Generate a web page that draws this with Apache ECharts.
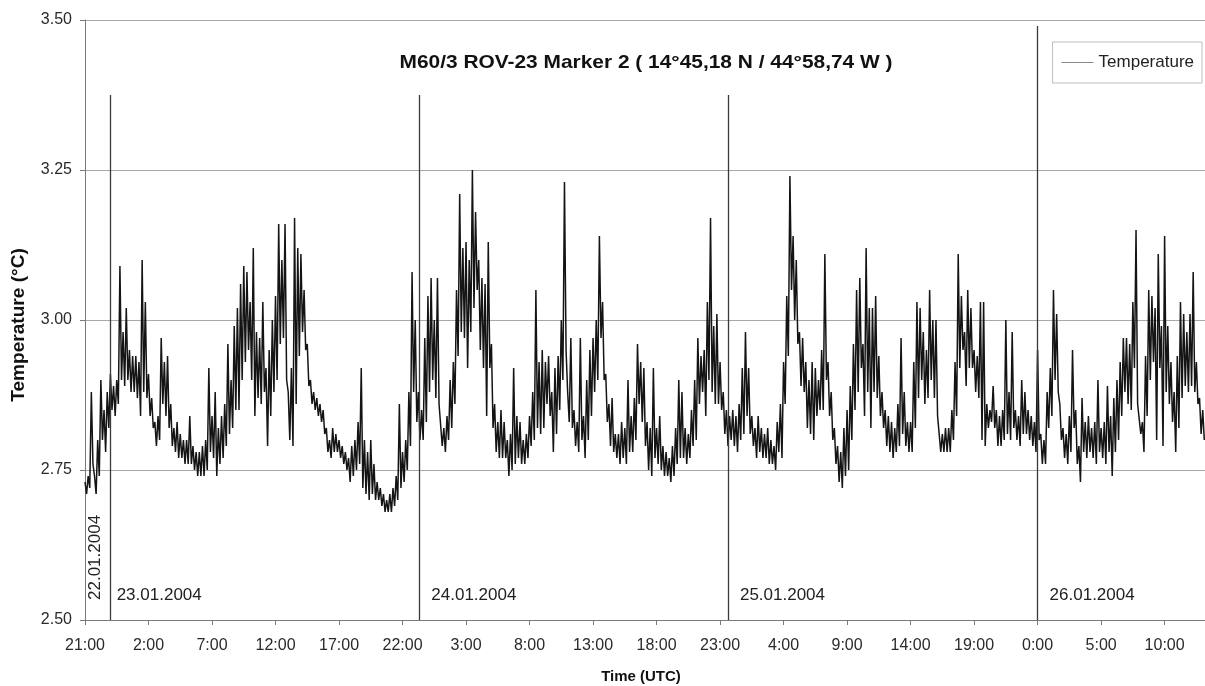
<!DOCTYPE html>
<html>
<head>
<meta charset="utf-8">
<script src="https://cdn.jsdelivr.net/npm/echarts@6/dist/echarts.min.js"></script>
<style>
  html, body { margin: 0; padding: 0; background: #fff; }
  #chart { width: 1205px; height: 686px; }
</style>
</head>
<body>
<div id="chart"></div>
<script>
// Temperature log, M60/3 ROV-23 Marker 2.
// Samples every 0.125 h starting 22.01.2004 21:00 UTC (one row per hour).
const sampleStepHours = 0.125;
const temps = [
  2.73,2.71, 2.74,2.72, 2.88,2.76, 2.74,2.71,
  2.80,2.74, 2.90,2.80, 2.85,2.78, 2.88,2.82,
  2.91,2.85, 2.89,2.84, 2.90,2.86, 3.09,2.90,
  2.98,2.89, 3.02,2.90, 2.95,2.88, 2.94,2.88,
  2.94,2.87, 2.93,2.84, 3.10,2.88, 3.03,2.87,
  2.91,2.84, 2.87,2.82, 2.83,2.79, 2.84,2.80,
  2.97,2.86, 2.93,2.84, 2.94,2.82, 2.86,2.79,
  2.82,2.78, 2.83,2.77, 2.81,2.77, 2.80,2.76,
  2.80,2.76, 2.84,2.76, 2.79,2.75, 2.78,2.74,
  2.78,2.74, 2.79,2.74, 2.80,2.75, 2.92,2.78,
  2.84,2.77, 2.88,2.74, 2.82,2.76, 2.84,2.77,
  2.86,2.79, 2.96,2.81, 2.90,2.82, 2.99,2.85,
  3.02,2.85, 3.06,2.90, 3.09,2.93, 3.08,2.95,
  3.03,2.90, 3.12,2.84, 2.98,2.87, 2.97,2.86,
  3.03,2.88, 2.92,2.79, 2.95,2.84, 3.00,2.88,
  3.04,2.90, 3.16,2.96, 3.10,2.97, 3.16,2.90,
  2.88,2.80, 2.92,2.79, 3.17,2.86, 3.12,2.94,
  3.11,2.98, 3.05,2.95, 2.96,2.89, 2.90,2.86,
  2.88,2.85, 2.87,2.84, 2.86,2.83, 2.85,2.81,
  2.82,2.78, 2.80,2.77, 2.82,2.78, 2.81,2.78,
  2.80,2.77, 2.79,2.76, 2.78,2.75, 2.77,2.73,
  2.79,2.74, 2.80,2.75, 2.83,2.76, 2.92,2.72,
  2.80,2.71, 2.78,2.70, 2.80,2.71, 2.76,2.70,
  2.73,2.70, 2.72,2.69, 2.71,2.68, 2.70,2.68,
  2.71,2.68, 2.72,2.69, 2.74,2.70, 2.86,2.72,
  2.78,2.73, 2.80,2.75, 2.88,2.79, 3.08,2.88,
  3.00,2.83, 2.88,2.80, 2.85,2.80, 2.97,2.83,
  3.04,2.88, 3.07,2.90, 3.00,2.87, 3.07,2.86,
  2.86,2.79, 2.82,2.78, 2.84,2.80, 2.90,2.82,
  2.93,2.86, 3.05,2.94, 3.21,2.98, 3.12,2.97,
  3.13,2.92, 3.10,2.98, 3.25,3.02, 3.18,3.05,
  3.10,2.95, 3.07,2.92, 3.06,2.84, 3.13,2.92,
  2.96,2.82, 2.86,2.78, 2.83,2.77, 2.85,2.77,
  2.83,2.77, 2.80,2.74, 2.81,2.75, 2.92,2.76,
  2.84,2.77, 2.83,2.76, 2.80,2.76, 2.81,2.77,
  2.84,2.79, 2.88,2.80, 3.05,2.82, 2.93,2.81,
  2.95,2.82, 2.93,2.86, 2.94,2.84, 2.88,2.78,
  2.92,2.81, 2.94,2.85, 3.00,2.90, 3.23,2.95,
  2.88,2.83, 2.97,2.82, 2.85,2.79, 2.83,2.78,
  2.97,2.80, 2.84,2.77, 2.90,2.80, 2.95,2.84,
  2.97,2.88, 3.00,2.90, 3.14,2.97, 3.03,2.90,
  2.91,2.83, 2.86,2.79, 2.87,2.78, 2.81,2.77,
  2.81,2.76, 2.83,2.77, 2.82,2.76, 2.90,2.78,
  2.84,2.78, 2.87,2.80, 2.96,2.86, 2.93,2.83,
  2.92,2.79, 2.83,2.75, 2.82,2.74, 2.92,2.77,
  2.82,2.76, 2.84,2.75, 2.79,2.74, 2.78,2.74,
  2.77,2.73, 2.79,2.74, 2.82,2.76, 2.90,2.77,
  2.88,2.77, 2.82,2.76, 2.81,2.77, 2.85,2.79,
  2.90,2.80, 2.97,2.86, 2.94,2.88, 2.95,2.84,
  3.03,2.90, 3.17,2.88, 2.99,2.86, 3.01,2.86,
  2.93,2.85, 2.88,2.81, 2.85,2.79, 2.84,2.80,
  2.85,2.79, 2.84,2.78, 2.86,2.80, 2.92,2.81,
  2.98,2.84, 2.92,2.81, 2.84,2.79, 2.82,2.77,
  2.84,2.78, 2.82,2.77, 2.81,2.77, 2.82,2.76,
  2.80,2.76, 2.79,2.75, 2.83,2.78, 2.86,2.77,
  2.93,2.86, 3.04,2.94, 3.24,3.05, 3.14,3.00,
  3.10,2.96, 2.98,2.89, 2.97,2.88, 2.93,2.82,
  2.90,2.81, 2.93,2.80, 2.92,2.84, 2.90,2.85,
  2.95,2.85, 3.11,2.90, 2.93,2.84, 2.88,2.80,
  2.82,2.76, 2.79,2.73, 2.78,2.72, 2.82,2.74,
  2.85,2.75, 2.89,2.80, 2.96,2.85, 3.05,2.88,
  3.07,2.92, 2.96,2.84, 3.12,2.88, 3.02,2.82,
  3.02,2.88, 3.04,2.87, 2.94,2.84, 2.88,2.82,
  2.85,2.79, 2.84,2.78, 2.83,2.77, 2.82,2.78,
  2.86,2.79, 2.97,2.81, 2.88,2.79, 2.83,2.78,
  2.83,2.78, 2.93,2.82, 3.03,2.87, 3.02,2.90,
  2.98,2.86, 2.95,2.87, 3.05,2.90, 3.00,2.87,
  3.00,2.84, 2.84,2.78, 2.81,2.78, 2.82,2.78,
  2.82,2.78, 2.85,2.80, 2.93,2.84, 3.11,2.92,
  3.04,2.95, 2.98,2.89, 3.05,2.92, 3.02,2.92,
  2.95,2.88, 2.94,2.87, 3.03,2.80, 3.03,2.79,
  2.86,2.82, 2.85,2.83, 2.89,2.82, 2.85,2.79,
  2.84,2.79, 2.85,2.80, 3.00,2.81, 2.88,2.80,
  2.98,2.82, 2.85,2.80, 2.84,2.79, 2.90,2.81,
  2.88,2.81, 2.85,2.80, 2.84,2.79, 2.83,2.78,
  2.95,2.80, 2.81,2.76, 2.80,2.76, 2.88,2.82,
  2.92,2.84, 3.05,2.90, 3.01,2.88, 2.86,2.80,
  2.82,2.77, 2.81,2.76, 2.84,2.78, 2.95,2.82,
  2.85,2.76, 2.79,2.73, 2.87,2.78, 2.83,2.77,
  2.84,2.78, 2.82,2.77, 2.83,2.76, 2.90,2.78,
  2.82,2.77, 2.83,2.76, 2.89,2.78, 2.84,2.74,
  2.87,2.78, 2.90,2.80, 2.93,2.84, 2.97,2.88,
  2.97,2.86, 2.96,2.85, 3.03,2.92, 3.15,2.86,
  2.86,2.81, 2.83,2.78, 2.94,2.84, 3.05,2.90,
  3.04,2.93, 3.02,2.80, 3.11,2.92, 2.99,2.79,
  3.14,2.88, 2.99,2.86, 2.93,2.83, 2.88,2.78,
  2.94,2.82, 3.03,2.87, 3.01,2.89, 2.98,2.88,
  3.01,2.89, 3.08,2.88, 2.93,2.86, 2.87,2.81,
  2.85,2.80
];

// Axis tick labels every 5 hours from 21:00 UTC
const timeTickLabels = [
  '21:00','2:00','7:00','12:00','17:00','22:00','3:00','8:00','13:00',
  '18:00','23:00','4:00','9:00','14:00','19:00','0:00','5:00','10:00'
];
const tickStepHours = 5;
const axisEndHours = 88.18;

// Date separator lines (hours after start) with their upper ends (°C)
const dayLineHours = [2.02, 26.32, 50.62, 75.0];
const dayLineTops = [3.375, 3.375, 3.375, 3.49];
const dayLabels = ['23.01.2004', '24.01.2004', '25.01.2004', '26.01.2004'];
const startDayLabel = '22.01.2004';

const titleText = 'M60/3 ROV-23 Marker 2 ( 14°45,18 N / 44°58,74 W )';
const FONT = '"Liberation Sans", Arial, Helvetica, sans-serif';

const seriesData = temps.map((v, i) => [i * sampleStepHours, v]);

const chart = echarts.init(document.getElementById('chart'), null, { renderer: 'canvas' });

const option = {
  animation: false,
  backgroundColor: '#ffffff',
  textStyle: { fontFamily: FONT },
  grid: { left: 85, top: 20, right: -4, bottom: 66, containLabel: false },
  legend: {
    right: 3, top: 42,
    icon: 'rect',
    itemWidth: 32, itemHeight: 1, itemGap: 6,
    padding: [12, 8, 12, 9],
    borderColor: '#bdbdbd', borderWidth: 1,
    textStyle: { fontSize: 17, color: '#222', fontFamily: FONT, padding: [0, 0, 0, 0] },
    data: [{ name: 'Temperature', icon: 'rect', itemStyle: { color: '#8a8a8a', borderWidth: 0 } }]
  },
  xAxis: {
    type: 'value',
    min: 0, max: axisEndHours, interval: tickStepHours,
    axisLine: { show: true, lineStyle: { color: '#7a7a7a', width: 1 } },
    axisTick: { show: true, length: 5, lineStyle: { color: '#7a7a7a' } },
    splitLine: { show: false },
    axisLabel: {
      margin: 18, fontSize: 16, color: '#2a2a2a', fontFamily: FONT,
      showMaxLabel: false,
      formatter: v => timeTickLabels[Math.round(v / tickStepHours)] || ''
    }
  },
  yAxis: {
    type: 'value',
    min: 2.5, max: 3.5, interval: 0.25,
    axisLine: { show: true, lineStyle: { color: '#7a7a7a', width: 1 } },
    axisTick: { show: true, length: 5, lineStyle: { color: '#7a7a7a' } },
    splitLine: { show: true, lineStyle: { color: '#a8a8a8', width: 1 } },
    axisLabel: {
      margin: 13, fontSize: 16, color: '#2a2a2a', fontFamily: FONT,
      formatter: v => v.toFixed(2)
    }
  },
  series: [{
    name: 'Temperature',
    type: 'line',
    data: seriesData,
    symbol: 'none',
    sampling: null,
    lineStyle: { color: '#141414', width: 1.5 },
    itemStyle: { color: '#8a8a8a' },
    z: 3,
    markLine: {
      silent: true,
      symbol: 'none',
      label: { show: false },
      lineStyle: { color: '#3a3a3a', width: 1.3, type: 'solid' },
      data: dayLineHours.map((h, i) => [
        { coord: [h, 2.5] },
        { coord: [h, dayLineTops[i]] }
      ])
    }
  }]
};

chart.setOption(option);

// Titles, axis names and date captions placed from axis coordinates
const base = chart.convertToPixel({ gridIndex: 0 }, [0, 2.5]);
const graphics = [
  {
    type: 'text', x: 646, y: 63, scaleX: 1.1,
    style: { text: titleText, font: 'bold 19px ' + FONT, fill: '#111', textAlign: 'center', textVerticalAlign: 'middle' }
  },
  {
    type: 'text', x: 19, y: 325, rotation: Math.PI / 2, scaleX: 1.06,
    style: { text: 'Temperature (°C)', font: 'bold 18px ' + FONT, fill: '#111', textAlign: 'center', textVerticalAlign: 'middle' }
  },
  {
    type: 'text', x: 641, y: 677,
    style: { text: 'Time (UTC)', font: 'bold 15px ' + FONT, fill: '#111', textAlign: 'center', textVerticalAlign: 'middle' }
  },
  {
    type: 'text', x: base[0] + 10, y: base[1] - 20, rotation: Math.PI / 2,
    style: { text: startDayLabel, font: '17px ' + FONT, fill: '#222', textAlign: 'left', textVerticalAlign: 'middle' }
  }
];
dayLineHours.forEach((h, i) => {
  const p = chart.convertToPixel({ gridIndex: 0 }, [h, 2.5]);
  const gap = i === 0 ? 6 : 12;
  graphics.push({
    type: 'text', x: p[0] + gap, y: p[1] - 25,
    style: { text: dayLabels[i], font: '17px ' + FONT, fill: '#222', textAlign: 'left', textVerticalAlign: 'middle' }
  });
});
chart.setOption({ graphic: graphics });
</script>
</body>
</html>
